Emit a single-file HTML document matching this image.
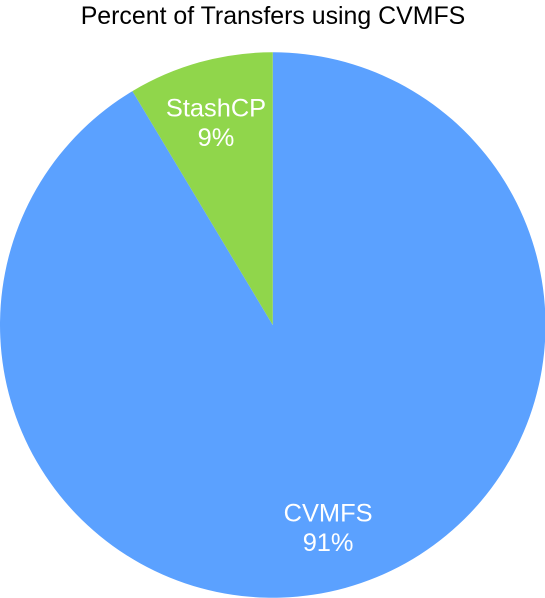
<!DOCTYPE html>
<html>
<head>
<meta charset="utf-8">
<style>
html,body{margin:0;padding:0;background:#fff;width:545px;height:598px;overflow:hidden}
svg{display:block;font-family:"Liberation Sans",sans-serif}
</style>
</head>
<body>
<svg id="chart" width="545" height="598" viewBox="0 0 545 598" xmlns="http://www.w3.org/2000/svg">
<text x="273" y="24" text-anchor="middle" font-size="24.9" fill="#000">Percent of Transfers using CVMFS</text>
<g id="slices"></g>
<g id="labels"></g>
</svg>
<script>
const categories = ['CVMFS', 'StashCP'];
const seriesValues = [91.4, 8.6];
const sliceColors = ['#5ba1ff', '#90d64b'];
const NS = 'http://www.w3.org/2000/svg';
const cx = 272.75, cy = 325, radius = 272.75, labelRadius = radius * 0.77;
const total = seriesValues.reduce((a, b) => a + b, 0);
function angleOf(v) { return v / total * Math.PI * 2; }
function pointAt(a, r) { return [cx + r * Math.sin(a), cy - r * Math.cos(a)]; }
const slicesGroup = document.getElementById('slices');
const labelsGroup = document.getElementById('labels');
let start = 0;
seriesValues.forEach((v, i) => {
  const end = start + angleOf(v);
  const p0 = pointAt(start, radius);
  const p1 = pointAt(end, radius);
  const large = end - start > Math.PI ? 1 : 0;
  const path = document.createElementNS(NS, 'path');
  path.setAttribute('d', `M${cx} ${cy}L${p0[0]} ${p0[1]}A${radius} ${radius} 0 ${large} 1 ${p1[0]} ${p1[1]}Z`);
  path.setAttribute('fill', sliceColors[i]);
  
  
  slicesGroup.appendChild(path);
  const lp = pointAt((start + end) / 2, labelRadius);
  const nameText = document.createElementNS(NS, 'text');
  nameText.setAttribute('x', lp[0] - 0.7);
  nameText.setAttribute('y', lp[1] - 6);
  nameText.setAttribute('text-anchor', 'middle');
  nameText.setAttribute('font-size', '25.4');
  nameText.setAttribute('fill', '#fff');
  
  
  nameText.textContent = categories[i];
  labelsGroup.appendChild(nameText);
  const pctText = document.createElementNS(NS, 'text');
  pctText.setAttribute('x', lp[0] - 0.7);
  pctText.setAttribute('y', lp[1] + 23.5);
  pctText.setAttribute('text-anchor', 'middle');
  pctText.setAttribute('font-size', '25.4');
  pctText.setAttribute('fill', '#fff');
  
  
  pctText.textContent = Math.round(v / total * 100) + '%';
  labelsGroup.appendChild(pctText);
  start = end;
});
</script>
</body>
</html>
